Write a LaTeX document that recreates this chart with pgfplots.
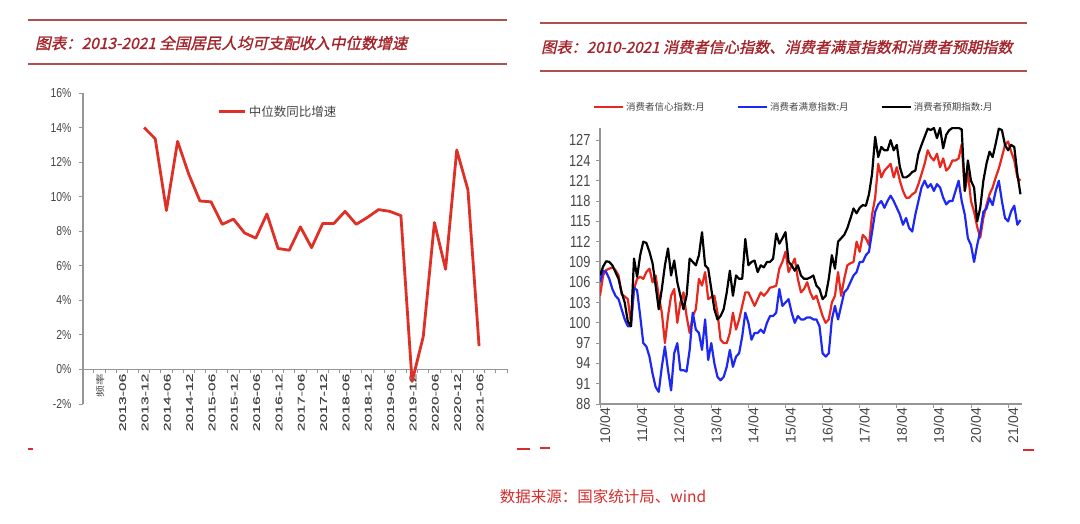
\documentclass[border=0pt]{standalone}
\usepackage{fontspec}
\usepackage{pgfplots}
\usepackage{pgfplotstable}
\pgfplotsset{compat=1.18}
\setmainfont{Liberation Sans}
\newfontfamily\cjk{Noto Sans CJK SC}
\newfontfamily\cjktitle[FakeSlant=0.22,FakeBold=1.2]{Noto Sans CJK SC}
\newfontfamily\narrow[FakeStretch=0.8]{Liberation Sans}
\newfontfamily\wide[FakeStretch=1.6,FakeBold=0.6]{Liberation Sans}
\newfontfamily\cjkwide[FakeStretch=1.3]{Noto Sans CJK SC}
\definecolor{titlered}{RGB}{165,35,40}
\definecolor{rulered}{RGB}{175,80,80}
\definecolor{linered}{RGB}{222,48,38}
\definecolor{cred}{RGB}{232,40,30}
\definecolor{cblue}{RGB}{30,40,245}
\definecolor{axgray}{RGB}{150,150,150}
\definecolor{txtgray}{RGB}{70,70,70}
\definecolor{srcred}{RGB}{215,45,45}

\pgfplotstableread{
m C S E
0 104.0 106.0 107.0
1 107.0 107.7 108.3
2 107.8 107.5 109.1
3 108.0 106.5 109.0
4 108.2 105.0 108.5
5 107.8 104.0 107.5
6 107.0 103.5 106.5
7 104.2 102.0 104.5
8 103.9 100.5 103.0
9 103.5 99.5 100.2
10 100.0 99.5 99.5
11 105.0 105.2 109.5
12 106.5 104.8 106.8
13 106.8 101.0 110.0
14 106.5 97.0 112.0
15 107.5 96.5 111.8
16 108.0 95.0 110.5
17 106.0 92.5 108.8
18 107.0 90.5 105.5
19 104.0 89.8 102.0
20 101.5 93.5 105.0
21 97.0 96.5 108.5
22 101.0 93.0 111.0
23 104.0 90.0 107.0
24 105.0 95.5 109.2
25 100.0 97.0 106.0
26 103.0 93.0 104.0
27 104.5 93.0 102.0
28 101.0 92.8 104.0
29 98.5 96.0 109.5
30 101.0 101.5 109.0
31 102.0 99.0 108.5
32 106.5 98.5 110.0
33 105.5 96.0 113.4
34 107.5 100.5 108.5
35 103.5 94.5 108.0
36 103.8 97.0 105.0
37 104.0 94.0 102.0
38 101.5 92.0 100.5
39 97.5 91.5 101.0
40 97.0 92.0 102.0
41 97.0 93.5 104.5
42 98.5 96.0 107.7
43 101.5 93.5 104.0
44 99.0 95.0 107.0
45 100.5 95.5 106.5
46 102.5 98.0 106.5
47 104.5 101.5 112.4
48 104.5 100.0 108.5
49 103.5 97.5 109.0
50 102.5 98.5 109.2
51 103.5 98.5 107.5
52 104.5 99.0 108.5
53 104.0 98.5 108.2
54 104.5 100.0 109.0
55 105.2 101.0 109.0
56 105.3 101.0 109.5
57 105.5 101.5 113.2
58 108.0 105.0 111.7
59 109.0 102.5 112.5
60 110.5 103.0 113.4
61 107.5 103.5 109.0
62 108.5 101.5 108.5
63 109.5 100.0 107.7
64 106.5 101.0 108.5
65 104.5 100.5 107.0
66 105.0 100.5 106.5
67 106.0 100.8 106.5
68 104.5 100.8 106.7
69 103.5 100.5 107.0
70 104.0 100.5 105.5
71 102.5 99.5 105.0
72 101.0 95.5 103.5
73 100.0 95.0 104.0
74 100.5 95.5 106.5
75 103.0 100.5 110.0
76 104.0 102.5 108.0
77 107.5 100.5 112.0
78 104.0 102.5 112.5
79 106.5 104.5 113.0
80 108.5 105.0 114.0
81 108.8 106.0 115.4
82 109.0 107.0 116.9
83 112.0 107.5 116.2
84 110.5 109.0 117.0
85 113.0 109.0 117.4
86 112.5 110.0 117.3
87 111.5 110.5 119.0
88 116.0 113.4 122.0
89 118.5 116.4 127.5
90 123.5 117.5 124.5
91 121.5 118.0 126.0
92 122.5 117.0 125.5
93 123.0 118.0 125.5
94 123.5 118.8 127.0
95 121.5 118.0 125.5
96 123.0 117.0 126.3
97 121.0 116.0 123.0
98 119.5 114.5 121.5
99 118.5 115.5 121.5
100 118.5 114.0 121.8
101 119.0 113.5 122.3
102 119.3 116.0 122.5
103 120.5 118.0 125.0
104 122.0 120.0 126.3
105 123.5 121.0 127.5
106 125.5 120.0 128.7
107 124.5 120.5 128.5
108 124.0 119.5 128.8
109 125.0 120.5 127.3
110 123.0 120.0 128.8
111 124.3 118.5 125.8
112 122.5 117.5 127.8
113 123.0 118.0 128.5
114 124.0 118.0 128.8
115 124.0 119.5 128.8
116 124.3 121.0 128.8
117 126.4 118.0 128.6
118 119.5 116.0 119.5
119 122.2 112.5 124.0
120 118.0 111.5 121.0
121 116.4 109.0 120.0
122 114.2 111.5 115.0
123 112.6 113.5 117.0
124 115.5 116.4 121.0
125 117.4 116.9 123.5
126 119.0 118.4 125.3
127 120.0 117.4 124.5
128 121.5 119.5 126.5
129 122.8 121.0 128.7
130 124.5 118.0 128.5
131 126.3 115.5 126.3
132 126.8 115.0 125.5
133 125.3 116.5 126.3
134 124.0 117.3 126.0
135 121.5 114.5 122.0
136 121.0 115.2 119.0
}\conf

\begin{document}
\begin{tikzpicture}
\path[use as bounding box, fill=white] (0pt,0pt) rectangle (1080pt,524pt);
% left title block
\draw[rulered,line width=1.8pt] (28pt,504pt) -- (507pt,504pt);
\draw[rulered,line width=1.8pt] (28pt,460pt) -- (507pt,460pt);
\node[anchor=west,text=titlered,font=\cjktitle\fontsize{15.5}{16}\selectfont,inner sep=0pt] at (35pt,481pt) {图表：2013-2021 全国居民人均可支配收入中位数增速};
% right title block
\draw[rulered,line width=1.8pt] (540pt,501pt) -- (1027pt,501pt);
\draw[rulered,line width=1.8pt] (540pt,453pt) -- (1027pt,453pt);
\node[anchor=west,text=titlered,font=\cjktitle\fontsize{15.2}{16}\selectfont,inner sep=0pt] at (541pt,477pt) {图表：2010-2021 消费者信心指数、消费者满意指数和消费者预期指数};
% small red dashes
\draw[srcred,line width=1.5pt] (28pt,75pt) -- (33pt,75pt);
\draw[srcred,line width=1.5pt] (517pt,75pt) -- (530pt,75pt);
\draw[srcred,line width=1.5pt] (540pt,76pt) -- (550pt,76pt);
\draw[srcred,line width=1.5pt] (1023pt,74pt) -- (1034pt,74pt);
% source
\node[text=srcred,font=\cjk\fontsize{15.5}{16}\selectfont,inner sep=0pt] at (603pt,27pt) {数据来源：国家统计局、wind};

% ---------- left chart ----------
\begin{axis}[
  at={(83pt,120pt)}, anchor=south west, scale only axis,
  width=424pt, height=311pt,
  xmin=-0.47, xmax=37.5, ymin=-2, ymax=16,
  axis x line=middle, axis y line=left,
  axis line style={-,axgray,line width=1.1pt},
  hide obscured x ticks=false, hide obscured y ticks=false,
  xtick={0,2,...,34},
  xticklabels={{\cjkwide\fontsize{9}{9}\selectfont 频率},2013-06,2013-12,2014-06,2014-12,2015-06,2015-12,2016-06,2016-12,2017-06,2017-12,2018-06,2018-12,2019-06,2019-12,2020-06,2020-12,2021-06},
  major x tick style={draw=none},
  minor xtick={-0.5,0.5,...,37.5},
  minor x tick style={axgray,line width=0.9pt},
  minor tick length=4pt,
  tick align=outside,
  x tick label style={rotate=90, anchor=east, yshift=-12pt, font=\wide\fontsize{9.8}{10}\selectfont, text=txtgray, inner sep=0pt},
  ytick={-2,0,...,16},
  yticklabel={\pgfmathprintnumber[assume math mode=true]{\tick}\%},
  y tick label style={font=\narrow\fontsize{13}{13}\selectfont, text=txtgray, xshift=-4pt},
  major y tick style={axgray,line width=0.9pt},
  major tick length=4pt,
  clip=false,
  legend style={at={(0.318,0.94)}, anchor=west, draw=none, fill=none, inner sep=0pt,
    font=\cjk\fontsize{12.5}{13}\selectfont, text=txtgray},
  legend image code/.code={\draw[#1] (0pt,0pt) -- (26pt,0pt);},
]
\addplot[linered, line width=2.8pt, line join=round] coordinates {
(5,14.0) (6,13.35) (7,9.2) (8,13.2) (9,11.3) (10,9.75) (11,9.7) (12,8.4) (13,8.7) (14,7.9) (15,7.6) (16,9.0) (17,7.0) (18,6.9) (19,8.25) (20,7.05) (21,8.45) (22,8.45) (23,9.15) (24,8.4) (25,8.8) (26,9.25) (27,9.15) (28,8.9) (29,-0.7) (30,1.9) (31,8.5) (32,5.8) (33,12.7) (34,10.4) (35,1.35)
};
\addlegendentry{中位数同比增速}
\end{axis}

% ---------- right chart ----------
\begin{axis}[
  at={(600pt,120pt)}, anchor=south west, scale only axis,
  width=422pt, height=276pt,
  xmin=0, xmax=136.5, ymin=88, ymax=128.8,
  axis lines=left,
  axis line style={-,axgray,line width=1.1pt},
  xtick={0,12,...,132},
  xticklabels={10/04,11/04,12/04,13/04,14/04,15/04,16/04,17/04,18/04,19/04,20/04,21/04},
  ytick={88,91,...,127},
  tick align=outside, major tick length=4pt,
  tick style={axgray,line width=0.9pt},
  x tick label style={rotate=90, anchor=east, yshift=-5pt, font=\fontsize{14}{14}\selectfont, text=txtgray, inner sep=0pt},
  y tick label style={font=\narrow\fontsize{16}{16}\selectfont, text=txtgray, xshift=-2pt},
  /pgf/number format/assume math mode=true,
  legend columns=3,
  legend style={at={(-0.017,1.076)}, anchor=west, draw=none, fill=none, inner sep=0pt,
    font=\cjk\fontsize{9.5}{10}\selectfont, text=txtgray,
    /tikz/every even column/.append style={column sep=30pt}},
  legend image code/.code={\draw[#1] (0pt,0pt) -- (29pt,0pt);},
]
\addplot[cred, line width=2.2pt, line join=round] table[x=m, y=C] {\conf};
\addlegendentry{消费者信心指数:月}
\addplot[cblue, line width=2.2pt, line join=round] table[x=m, y=S] {\conf};
\addlegendentry{消费者满意指数:月}
\addplot[black, line width=2.2pt, line join=round] table[x=m, y=E] {\conf};
\addlegendentry{消费者预期指数:月}
\end{axis}
\end{tikzpicture}
\end{document}
